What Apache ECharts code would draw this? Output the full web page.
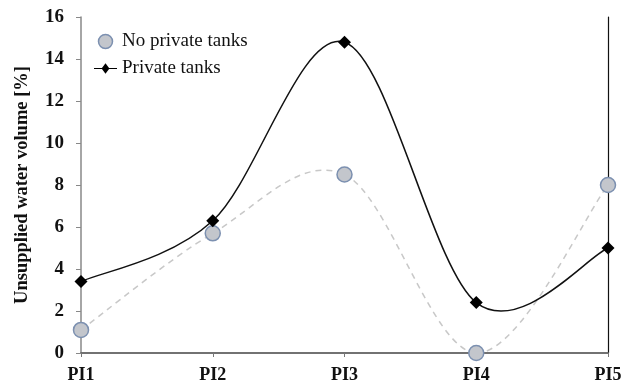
<!DOCTYPE html>
<html><head><meta charset="utf-8">
<script src="https://cdn.jsdelivr.net/npm/echarts@6/dist/echarts.min.js"></script>
<style>html,body{margin:0;padding:0;background:#fff}#c{width:629px;height:386px}</style>
</head><body><div id="c"></div>
<script>
const categories = ['PI1','PI2','PI3','PI4','PI5'];
const noPrivateTanks = [1.1, 5.7, 8.5, 0.0, 8.0];
const privateTanks = [3.4, 6.3, 14.8, 2.4, 5.0];
const yTicks = {min: 0, max: 16, interval: 2};
const yName = 'Unsupplied water volume [%]';

const font = 'Liberation Serif, Times New Roman, serif';

// Excel-style smoothed curve (Catmull-Rom Bezier) drawn through the axis scales
function smoothSegment(values, style) {
  return function (params, api) {
    const i = params.dataIndex;
    const n = values.length;
    if (i >= n - 1) return null;
    const p = k => { k = Math.max(0, Math.min(n - 1, k)); return api.coord([k, values[k]]); };
    const p0 = p(i - 1), p1 = p(i), p2 = p(i + 1), p3 = p(i + 2);
    return {
      type: 'bezierCurve',
      shape: {
        x1: p1[0], y1: p1[1], x2: p2[0], y2: p2[1],
        cpx1: p1[0] + (p2[0] - p0[0]) / 6, cpy1: p1[1] + (p2[1] - p0[1]) / 6,
        cpx2: p2[0] - (p3[0] - p1[0]) / 6, cpy2: p2[1] - (p3[1] - p1[1]) / 6
      },
      style: Object.assign({fill: null}, style),
      silent: true
    };
  };
}

const chart = echarts.init(document.getElementById('c'));
chart.setOption({
  animation: false,
  backgroundColor: '#fff',
  grid: {left: 81, top: 17, right: 21, bottom: 33},
  legend: {
    orient: 'vertical', left: 89, top: 27, itemGap: 8,
    itemWidth: 23, itemHeight: 14,
    textStyle: {fontFamily: font, fontSize: 19, color: '#111'},
    data: [
      {name: 'No private tanks', icon: 'circle', itemStyle: {color: '#c3c6cc', borderColor: '#7c90b0', borderWidth: 1.5}},
      {name: 'Private tanks', icon: 'path://M0,6.4 L9,6.4 L13,1 L17,6.4 L26,6.4 L26,7.6 L17,7.6 L13,13 L9,7.6 L0,7.6 Z', itemStyle: {color: '#000', borderWidth: 0}}
    ]
  },
  xAxis: [{
    type: 'category', data: categories, boundaryGap: false,
    axisLine: {lineStyle: {color: '#777', width: 1.5}},
    axisTick: {show: true, length: 4, alignWithLabel: true, lineStyle: {color: '#777'}},
    axisLabel: {fontFamily: font, fontWeight: 'bold', fontSize: 18, color: '#111', margin: 13}
  }, {
    type: 'category', data: categories, boundaryGap: false, position: 'top',
    axisLine: {lineStyle: {color: '#666', width: 1.5}},
    axisTick: {show: false}, axisLabel: {show: false}
  }],
  yAxis: [{
    type: 'value', min: yTicks.min, max: yTicks.max, interval: yTicks.interval,
    name: yName, nameLocation: 'middle', nameGap: 49,
    nameTextStyle: {fontFamily: font, fontWeight: 'bold', fontSize: 18.5, color: '#111'},
    axisLine: {show: true, lineStyle: {color: '#888', width: 1.5}},
    axisTick: {show: true, length: 5, lineStyle: {color: '#888'}},
    splitLine: {show: false},
    axisLabel: {fontFamily: font, fontWeight: 'bold', fontSize: 19, color: '#111', margin: 17}
  }, {
    type: 'value', min: yTicks.min, max: yTicks.max, interval: yTicks.interval, position: 'right',
    axisLine: {show: true, lineStyle: {color: '#111', width: 1.2}},
    axisTick: {show: false}, axisLabel: {show: false}, splitLine: {show: false}
  }],
  series: [{
    type: 'custom', data: noPrivateTanks.map((v, i) => [i, v]), clip: false, silent: true, z: 1,
    renderItem: smoothSegment(noPrivateTanks, {stroke: '#c8c8c8', lineWidth: 1.5, lineDash: [6, 5]})
  }, {
    type: 'custom', data: privateTanks.map((v, i) => [i, v]), clip: false, silent: true, z: 1,
    renderItem: smoothSegment(privateTanks, {stroke: '#111', lineWidth: 1.5})
  }, {
    name: 'No private tanks', type: 'line', data: noPrivateTanks, clip: false,
    symbol: 'circle', symbolSize: 15,
    lineStyle: {width: 0, opacity: 0},
    itemStyle: {color: '#c3c6cc', borderColor: '#7c90b0', borderWidth: 1.5},
    z: 2
  }, {
    name: 'Private tanks', type: 'line', data: privateTanks, clip: false,
    symbol: 'diamond', symbolSize: 13,
    lineStyle: {width: 0, opacity: 0},
    itemStyle: {color: '#000'},
    z: 3
  }]
});
</script></body></html>
